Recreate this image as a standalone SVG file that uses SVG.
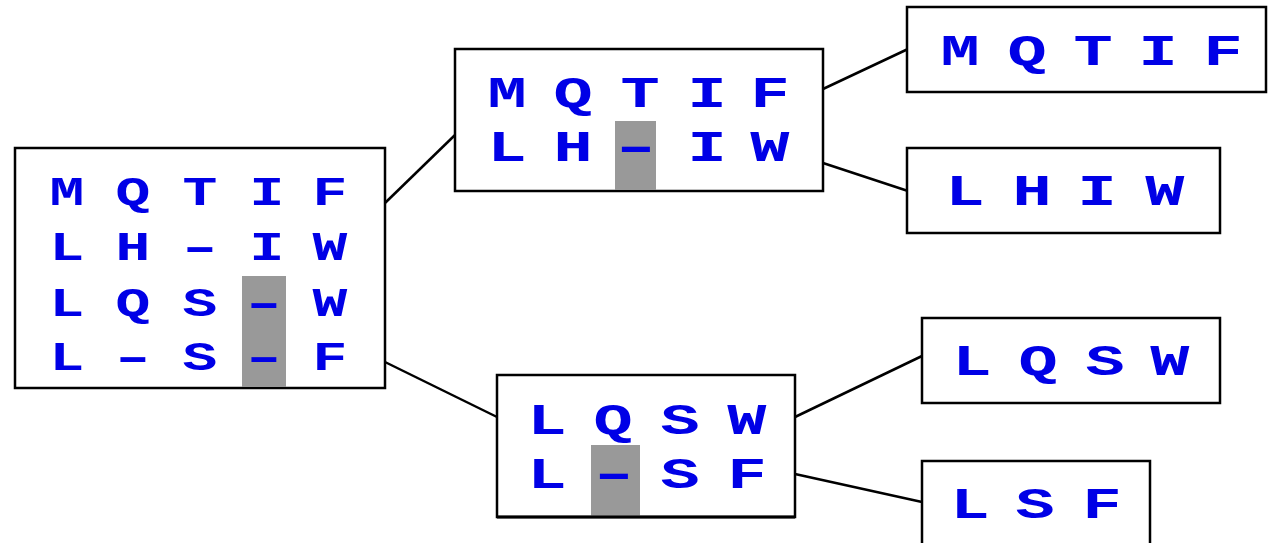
<svg xmlns="http://www.w3.org/2000/svg" width="1271" height="543" viewBox="0 0 1271 543">
<style>
.box{fill:#fff;stroke:#000;stroke-width:2.5}
.hl{fill:#999}
.t{font-family:"Liberation Mono","Courier New",monospace;font-weight:bold;fill:#0000e6;text-anchor:middle}
.t text{transform-box:fill-box;transform-origin:center;transform:scaleX(1.45)}
.t text.d{transform:scaleX(2.2)}
.s{font-size:40px}
.b{font-size:45px}
.c{stroke:#000;stroke-width:2.5;fill:none}
</style>
<rect width="1271" height="543" fill="#fff"/>
<g id="connectors">
<line class="c" x1="385" y1="203" x2="455" y2="135"/>
<line class="c" x1="385" y1="362" x2="497" y2="417"/>
<line class="c" x1="823" y1="89" x2="908" y2="49"/>
<line class="c" x1="823" y1="163" x2="908" y2="191"/>
<line class="c" x1="795" y1="417" x2="922" y2="356"/>
<line class="c" x1="795" y1="474" x2="922" y2="502"/>
</g>
<g id="root">
<rect class="box" x="15" y="148" width="370" height="240" stroke-width="3"/>
<rect class="hl" x="242" y="276" width="44" height="111"/>
<g class="t s">
<text x="67" y="205">M</text><text x="133" y="205">Q</text><text x="200" y="205">T</text><text x="267" y="205">I</text><text x="330" y="205">F</text>
<text x="67" y="260">L</text><text x="133" y="260">H</text><text class="d" x="200" y="260">-</text><text x="267" y="260">I</text><text x="330" y="260">W</text>
<text x="67" y="316">L</text><text x="133" y="316">Q</text><text x="200" y="316">S</text><text class="d" x="264" y="316">-</text><text x="330" y="316">W</text>
<text x="67" y="370">L</text><text class="d" x="133" y="370">-</text><text x="200" y="370">S</text><text class="d" x="264" y="370">-</text><text x="330" y="370">F</text>
</g>
</g>
<g id="split1">
<rect class="box" x="455" y="49" width="368" height="142" stroke-width="2"/>
<rect class="hl" x="615" y="121" width="41" height="69"/>
<g class="t b">
<text x="507" y="107">M</text><text x="573" y="107">Q</text><text x="640" y="107">T</text><text x="707" y="107">I</text><text x="770" y="107">F</text>
<text x="507" y="161">L</text><text x="573" y="161">H</text><text class="d" x="636" y="161">-</text><text x="707" y="161">I</text><text x="770" y="161">W</text>
</g>
</g>
<g id="split2">
<rect class="box" x="497" y="375" width="298" height="142" stroke-width="2"/>
<rect class="hl" x="591" y="445" width="49" height="71"/>
<g class="t b">
<text x="547" y="434">L</text><text x="613" y="434">Q</text><text x="680" y="434">S</text><text x="747" y="434">W</text>
<text x="547" y="488">L</text><text class="d" x="614" y="488">-</text><text x="680" y="488">S</text><text x="747" y="488">F</text>
</g>
<line x1="497" y1="517" x2="795" y2="517" stroke="#000" stroke-width="3"/>
</g>
<g id="leaf1">
<rect class="box" x="907" y="7" width="359" height="85"/>
<g class="t b">
<text x="960" y="65">M</text><text x="1027" y="65">Q</text><text x="1093" y="65">T</text><text x="1158" y="65">I</text><text x="1223" y="65">F</text>
</g>
</g>
<g id="leaf2">
<rect class="box" x="907" y="148" width="313" height="85"/>
<g class="t b">
<text x="965" y="205">L</text><text x="1032" y="205">H</text><text x="1097" y="205">I</text><text x="1165" y="205">W</text>
</g>
</g>
<g id="leaf3">
<rect class="box" x="922" y="318" width="298" height="85"/>
<g class="t b">
<text x="972" y="375">L</text><text x="1038" y="375">Q</text><text x="1105" y="375">S</text><text x="1170" y="375">W</text>
</g>
</g>
<g id="leaf4">
<rect class="box" x="922" y="461" width="228" height="100"/>
<g class="t b">
<text x="970" y="518">L</text><text x="1035" y="518">S</text><text x="1102" y="518">F</text>
</g>
</g>
</svg>
